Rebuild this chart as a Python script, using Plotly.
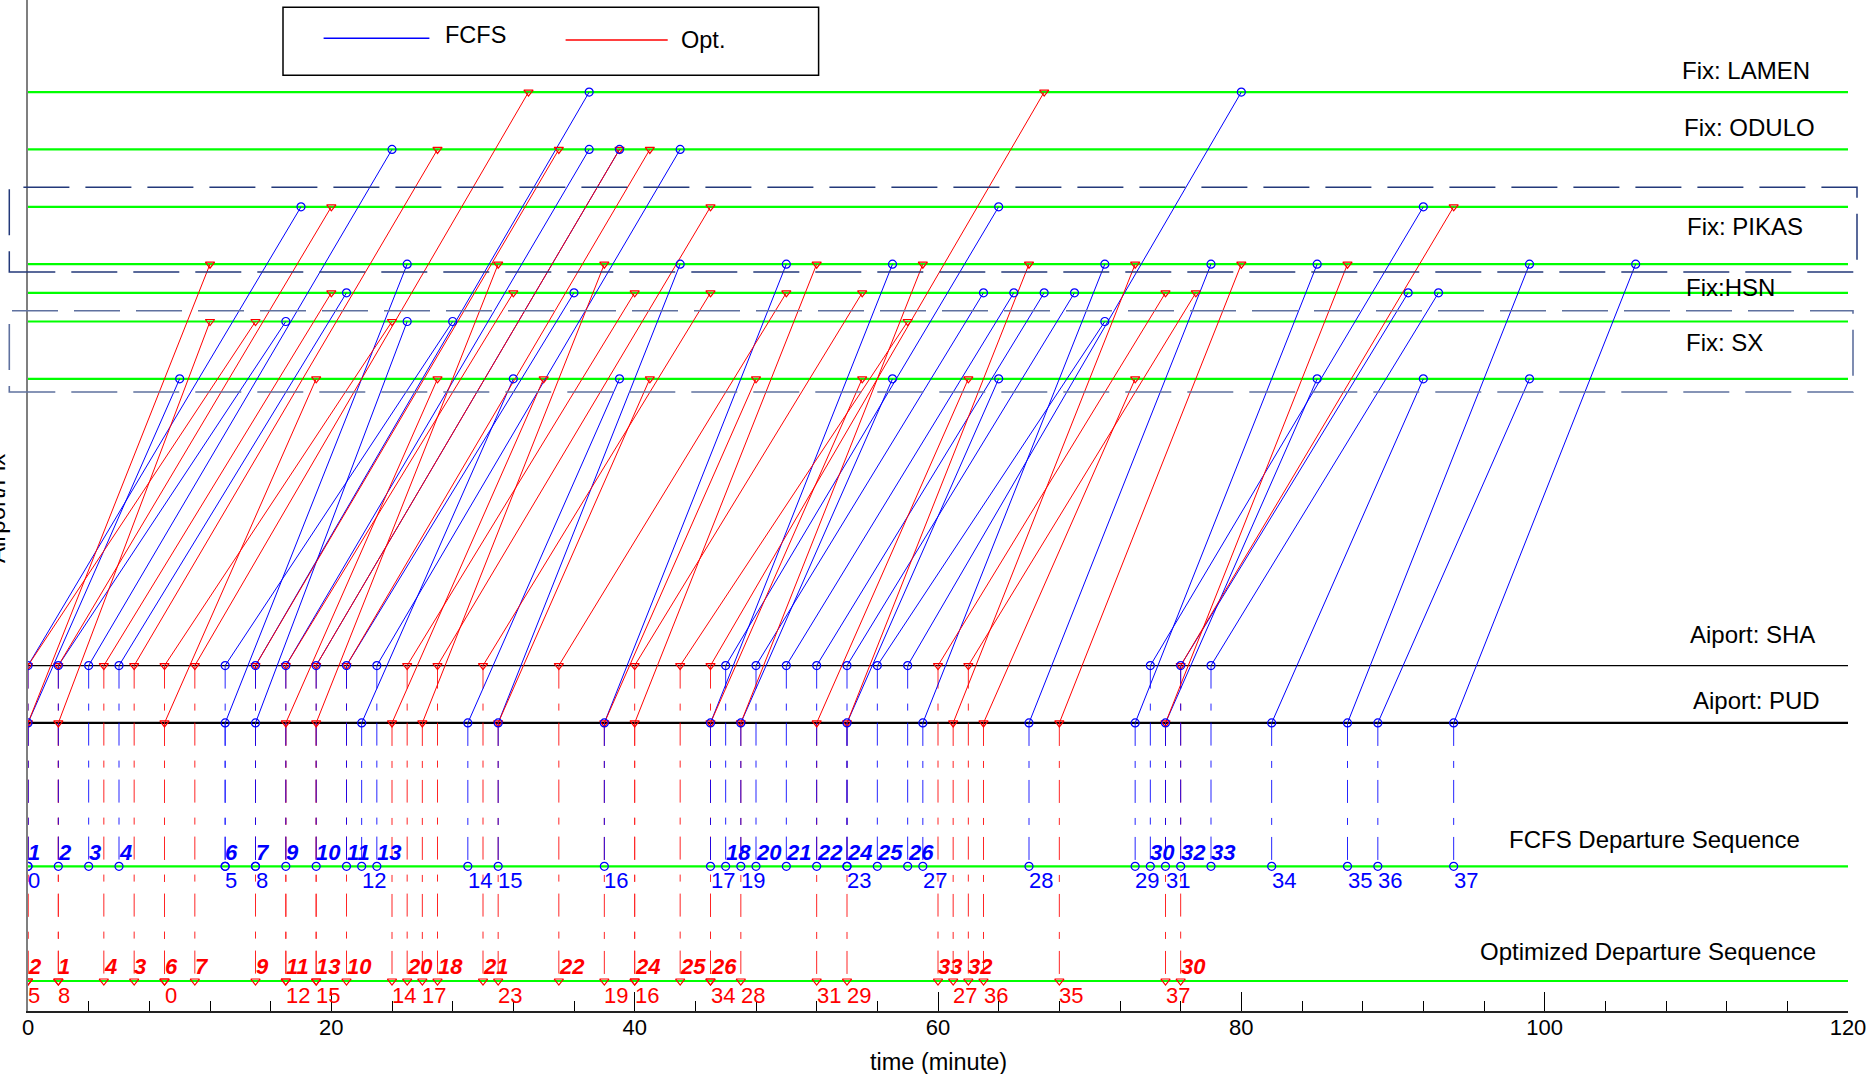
import plotly.graph_objects as go

# ---------------- data ----------------
LEVEL_NAMES = ["Opt", "FCFS", "PUD", "SHA", "SX-b", "SX-a", "HSN", "PIKAS-b", "PIKAS-a", "ODULO", "LAMEN"]
LEVEL_Y = [0, 2, 4.5, 5.5, 10.5, 11.5, 12, 12.5, 13.5, 14.5, 15.5]

flight_id = list(range(38))
airport = ["PUD", "SHA", "SHA", "SHA", "SHA", "PUD", "SHA", "SHA", "PUD", "SHA",
           "SHA", "SHA", "PUD", "SHA", "PUD", "PUD", "PUD", "PUD", "SHA", "PUD",
           "SHA", "SHA", "SHA", "PUD", "SHA", "SHA", "SHA", "PUD", "PUD", "PUD",
           "SHA", "PUD", "SHA", "SHA", "PUD", "PUD", "PUD", "PUD"]
fix_line = ["SX-b", "PIKAS-a", "SX-a", "ODULO", "HSN", "PIKAS-b", "SX-a", "LAMEN", "SX-a", "ODULO",
            "ODULO", "HSN", "SX-b", "ODULO", "SX-b", "PIKAS-b", "PIKAS-b", "PIKAS-b", "PIKAS-a", "SX-b",
            "HSN", "HSN", "HSN", "SX-b", "HSN", "SX-a", "LAMEN", "PIKAS-b", "PIKAS-b", "PIKAS-b",
            "PIKAS-a", "SX-b", "HSN", "HSN", "SX-b", "PIKAS-b", "SX-b", "PIKAS-b"]
fcfs_dep = [0, 0, 2, 4, 6, 13, 13, 15, 15, 17, 19, 21, 22, 23, 29, 31, 38, 45, 46, 47,
            48, 50, 52, 54, 54, 56, 58, 59, 66, 73, 74, 75, 76, 78, 82, 87, 89, 94]
fcfs_fix = [10, 18, 17, 24, 21, 25, 28, 37, 25, 37, 39, 36, 32, 43, 39, 43, 50, 57, 64, 57,
            63, 65, 67, 64, 69, 71, 80, 71, 78, 85, 92, 85, 91, 93, 92, 99, 99, 106]
opt_dep = [9, 2, 0, 7, 5, 0, 9, 11, 2, 15, 21, 17, 17, 19, 24, 19, 40, 26, 27, 38,
           25, 30, 35, 31, 40, 43, 45, 61, 47, 54, 76, 52, 62, 60, 45, 68, 63, 75]
opt_fix = [19, 20, 15, 27, 20, 12, 24, 33, 12, 35, 41, 32, 27, 39, 34, 31, 52, 38, 45, 48,
           40, 45, 50, 41, 55, 58, 67, 73, 59, 66, 94, 62, 77, 75, 55, 80, 73, 87]

GREEN_LEVELS = ["LAMEN", "ODULO", "PIKAS-a", "PIKAS-b", "HSN", "SX-a", "SX-b", "FCFS", "Opt"]
fix_text = ["Fix: LAMEN", "Fix: ODULO", "Fix: PIKAS", "Fix:HSN", "Fix: SX",
            "Aiport: SHA", "Aiport: PUD", "FCFS Departure Sequence", "Optimized Departure Sequence"]
fix_text_x = [108.95, 109.05, 109.25, 109.2, 109.2, 109.45, 109.65, 97.5, 95.6]
fix_text_y = [15.88, 14.88, 13.15, 12.09, 11.13, 6.05, 4.90, 2.46, 0.51]

X_RANGE = [0, 120]
Y_RANGE = [-0.523, 17.106]

# ---------------- figure geometry ----------------
W, H = 1871, 1074
ML, MR, MT, MB = 28, 23, 0, 63
PW, PH = W - ML - MR, H - MT - MB


def px_x(px):
    return (px - ML) / PW


def px_y(py):
    return (MT + PH - py) / PH


def yl(name):
    return LEVEL_Y[LEVEL_NAMES.index(name)]


BLUE = "#0000FF"
RED = "#FF0000"
FONT = "Liberation Sans, Arial, Helvetica, sans-serif"

fig = go.Figure()

# green fix / sequence lines
gx, gy = [], []
for n in GREEN_LEVELS:
    gx += [X_RANGE[0], X_RANGE[1], None]
    gy += [yl(n), yl(n), None]
fig.add_trace(go.Scatter(x=gx, y=gy, mode="lines", line=dict(color="#00FF00", width=2.2),
                         hoverinfo="skip", showlegend=False))

# airport lines
fig.add_trace(go.Scatter(x=X_RANGE, y=[yl("SHA")] * 2, mode="lines",
                         line=dict(color="#000000", width=1.3), hoverinfo="skip", showlegend=False))
fig.add_trace(go.Scatter(x=X_RANGE, y=[yl("PUD")] * 2, mode="lines",
                         line=dict(color="#000000", width=2.2), hoverinfo="skip", showlegend=False))

DASHDOT = "23px,15px,7px,12px"

# vertical dash-dot drop lines
bx, by, rx, ry = [], [], [], []
for i in flight_id:
    ya = yl(airport[i])
    bx += [fcfs_dep[i], fcfs_dep[i], None]
    by += [ya, yl("FCFS"), None]
    rx += [opt_dep[i], opt_dep[i], None]
    ry += [ya, yl("Opt"), None]
fig.add_trace(go.Scatter(x=rx, y=ry, mode="lines", line=dict(color=RED, width=1, dash=DASHDOT),
                         opacity=0.85, hoverinfo="skip", showlegend=False))
fig.add_trace(go.Scatter(x=bx, y=by, mode="lines", line=dict(color=BLUE, width=1, dash=DASHDOT),
                         opacity=0.85, hoverinfo="skip", showlegend=False))

# routes airport -> fix
bx, by, rx, ry = [], [], [], []
for i in flight_id:
    ya = yl(airport[i])
    yf = yl(fix_line[i])
    bx += [fcfs_dep[i], fcfs_fix[i], None]
    by += [ya, yf, None]
    rx += [opt_dep[i], opt_fix[i], None]
    ry += [ya, yf, None]
fig.add_trace(go.Scatter(x=bx, y=by, mode="lines", line=dict(color=BLUE, width=1),
                         hoverinfo="skip", showlegend=False))
fig.add_trace(go.Scatter(x=rx, y=ry, mode="lines", line=dict(color=RED, width=1),
                         hoverinfo="skip", showlegend=False))

# markers
mbx = fcfs_dep + fcfs_fix + fcfs_dep
mby = [yl(a) for a in airport] + [yl(f) for f in fix_line] + [yl("FCFS")] * len(flight_id)
mrx = opt_dep + opt_fix + opt_dep
mry = [yl(a) for a in airport] + [yl(f) for f in fix_line] + [yl("Opt")] * len(flight_id)
fig.add_trace(go.Scatter(x=mrx, y=mry, mode="markers",
                         marker=dict(symbol="triangle-down-open", size=8, color=RED, line=dict(width=1.2)),
                         hoverinfo="skip", showlegend=False))
fig.add_trace(go.Scatter(x=mbx, y=mby, mode="markers",
                         marker=dict(symbol="circle-open", size=8, color=BLUE, line=dict(width=1.2)),
                         hoverinfo="skip", showlegend=False))

annotations = []
# flight number labels
for i in flight_id:
    sha = airport[i] == "SHA"
    txt = f"<b><i>{i}</i></b>" if sha else str(i)
    annotations.append(dict(x=fcfs_dep[i], y=yl("FCFS") + (0.24 if sha else -0.24), xref="x", yref="y",
                            text=txt, showarrow=False, xanchor="left", yanchor="middle", xshift=-2,
                            font=dict(family=FONT, size=22, color=BLUE)))
    annotations.append(dict(x=opt_dep[i], y=yl("Opt") + (0.26 if sha else -0.245), xref="x", yref="y",
                            text=txt, showarrow=False, xanchor="left", yanchor="middle", xshift=-2,
                            font=dict(family=FONT, size=22, color=RED)))

# fix / airport / sequence labels
for t, x, y in zip(fix_text, fix_text_x, fix_text_y):
    annotations.append(dict(x=x, y=y, xref="x", yref="y", text=t, showarrow=False,
                            xanchor="left", yanchor="middle",
                            font=dict(family=FONT, size=24, color="#000000")))

# axis titles
annotations.append(dict(x=0.5, y=px_y(1062), xref="paper", yref="paper", text="time (minute)",
                        showarrow=False, xanchor="center", yanchor="middle",
                        font=dict(family=FONT, size=23.5, color="#000000")))
annotations.append(dict(x=px_x(-4), y=px_y(509), xref="paper", yref="paper", text="Airport/Fix",
                        showarrow=False, xanchor="center", yanchor="middle", textangle=-90,
                        font=dict(family=FONT, size=24, color="#000000")))

# legend (drawn by hand to match the reference box)
annotations.append(dict(x=px_x(443), y=px_y(35), xref="paper", yref="paper", text="FCFS",
                        showarrow=False, xanchor="left", yanchor="middle",
                        font=dict(family=FONT, size=23.5, color="#000000")))
annotations.append(dict(x=px_x(679), y=px_y(40), xref="paper", yref="paper", text="Opt.",
                        showarrow=False, xanchor="left", yanchor="middle",
                        font=dict(family=FONT, size=23.5, color="#000000")))

shapes = [
    dict(type="rect", xref="paper", yref="paper", x0=px_x(283), x1=px_x(818.6), y0=px_y(75.3), y1=px_y(7.3),
         line=dict(color="#000000", width=1.5), fillcolor="white", layer="above"),
    dict(type="line", xref="paper", yref="paper", x0=px_x(323.6), x1=px_x(429.4), y0=px_y(38.3), y1=px_y(38.3),
         line=dict(color=BLUE, width=1.5), layer="above"),
    dict(type="line", xref="paper", yref="paper", x0=px_x(565.6), x1=px_x(667.7), y0=px_y(40), y1=px_y(40),
         line=dict(color=RED, width=1.5), layer="above"),
    # dashed group boxes
    dict(type="rect", xref="paper", yref="paper", x0=px_x(9.3), x1=px_x(1857), y0=px_y(272), y1=px_y(187.3),
         line=dict(color="#23397A", width=1.5, dash="46px,16px"), layer="above"),
    dict(type="rect", xref="paper", yref="paper", x0=px_x(9.3), x1=px_x(1853), y0=px_y(392), y1=px_y(310.7),
         line=dict(color="#5F719F", width=1.6, dash="46px,16px"), layer="above"),
]

fig.update_layout(
    width=W, height=H,
    margin=dict(l=ML, r=MR, t=MT, b=MB, pad=0),
    paper_bgcolor="white", plot_bgcolor="white",
    showlegend=False,
    annotations=annotations,
    shapes=shapes,
    xaxis=dict(range=X_RANGE, tickmode="linear", tick0=0, dtick=20, ticks="inside", ticklen=19,
               tickwidth=1.3, tickcolor="#000000", showline=True, linecolor="#222222", linewidth=1.6,
               showgrid=False, zeroline=False, ticklabelstandoff=-4,
               tickfont=dict(family=FONT, size=22, color="#000000"),
               minor=dict(dtick=4, ticks="inside", ticklen=10, tickwidth=1, tickcolor="#000000", showgrid=False)),
    yaxis=dict(range=Y_RANGE, showticklabels=False, ticks="", showgrid=False, zeroline=False,
               showline=True, linecolor="#7F7F7F", linewidth=2),
)

fig.write_html("out.html", config={"displayModeBar": False},
               post_script="document.body.style.margin='0';document.body.style.overflow='hidden';")
